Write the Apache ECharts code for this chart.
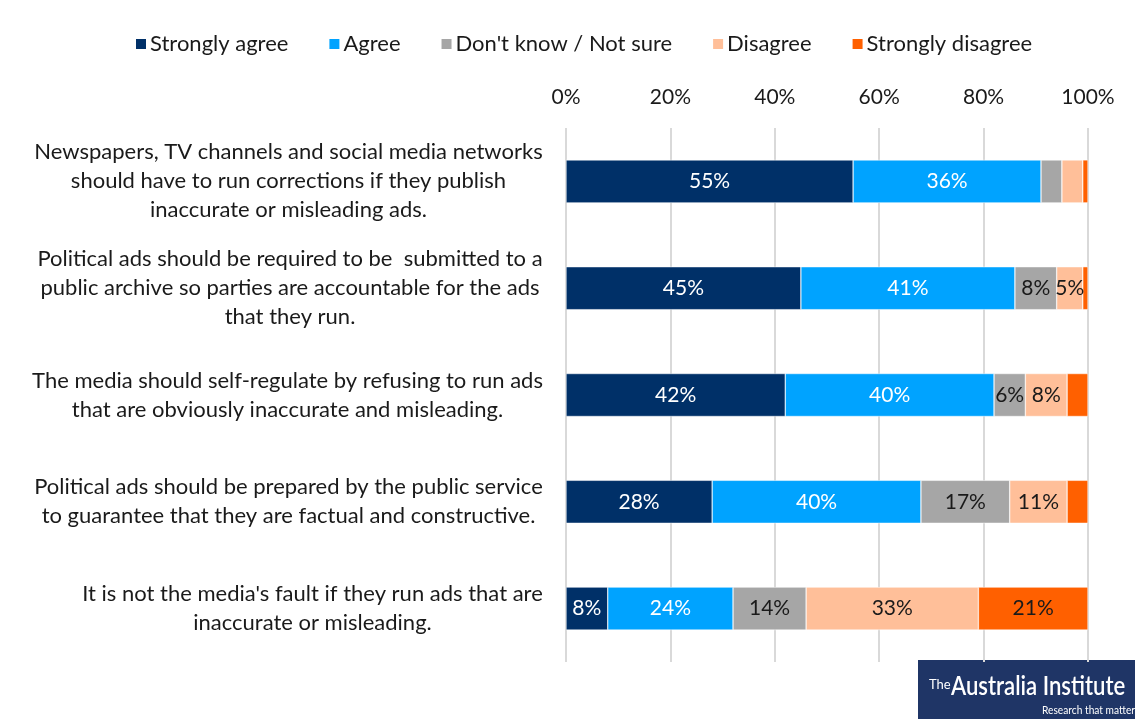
<!DOCTYPE html>
<html>
<head>
<meta charset="utf-8">
<script src="https://cdn.jsdelivr.net/npm/echarts@6/dist/echarts.min.js"></script>
<style>
html,body{margin:0;padding:0;background:#fff;}
#c{width:1135px;height:719px;}
</style>
</head>
<body>
<div id="c"></div>
<script>
const categories = [
  "Newspapers, TV channels and social media networks\nshould have to run corrections if they publish\ninaccurate or misleading ads.",
  "Political ads should be required to be  submitted to a\npublic archive so parties are accountable for the ads\nthat they run.",
  "The media should self-regulate by refusing to run ads\nthat are obviously inaccurate and misleading.",
  "Political ads should be prepared by the public service\nto guarantee that they are factual and constructive.",
  "It is not the media's fault if they run ads that are\ninaccurate or misleading."
];
const seriesNames = ["Strongly agree", "Agree", "Don't know / Not sure", "Disagree", "Strongly disagree"];
const stronglyAgree = [55, 45, 42, 28, 8];
const agree = [36, 41, 40, 40, 24];
const dontKnow = [4, 8, 6, 17, 14];
const disagree = [4, 5, 8, 11, 33];
const stronglyDisagree = [1, 1, 4, 4, 21];
const tickLabels = ["0%", "20%", "40%", "60%", "80%", "100%"];

const colors = ["#003068", "#00A3FF", "#A6A6A6", "#FFBF99", "#FF6000"];
const labelColors = ["#ffffff", "#ffffff", "#1a1a1a", "#1a1a1a", "#1a1a1a"];
const allData = [stronglyAgree, agree, dontKnow, disagree, stronglyDisagree];
const FONT = "Lato, 'Open Sans', sans-serif";
const CAT_SIZE = 22;

// measure category label blocks so each block's lines are centred on the block
const cv = document.createElement('canvas').getContext('2d');
cv.font = CAT_SIZE + 'px Lato';
const rich = {};
categories.forEach((c, i) => {
  const w = Math.max(...c.split('\n').map(l => cv.measureText(l).width));
  rich['c' + i] = { width: Math.ceil(w) + 2, align: 'center', fontSize: CAT_SIZE, fontFamily: FONT, color: '#1a1a1a', lineHeight: 29 };
});

const chart = echarts.init(document.getElementById('c'));
chart.setOption({
  animation: false,
  textStyle: { fontFamily: FONT },
  legend: {
    top: 28,
    left: 129,
    itemWidth: 12,
    itemHeight: 12,
    itemGap: 39,
    icon: 'rect',
    textStyle: { fontSize: 22, color: '#1a1a1a', fontFamily: FONT, padding: [0, 0, 0, -2] },
    data: seriesNames
  },
  grid: { left: 566, right: 47, top: 128, bottom: 57, containLabel: false },
  xAxis: {
    type: 'value',
    position: 'top',
    min: 0, max: 100, interval: 20,
    axisLine: { show: false },
    axisTick: { show: false },
    axisLabel: {
      fontSize: 21, color: '#1a1a1a', margin: 20, fontFamily: FONT,
      formatter: v => tickLabels[v / 20]
    },
    splitLine: { show: true, lineStyle: { color: '#D9D9D9', width: 2 } }
  },
  yAxis: {
    type: 'category',
    inverse: true,
    data: categories,
    axisLine: { show: false },
    axisTick: { show: false },
    axisLabel: {
      margin: 22, align: 'right',
      formatter: (v, i) => v.split('\n').map(l => '{c' + i + '|' + l + '}').join('\n'),
      rich
    }
  },
  series: seriesNames.map((name, i) => ({
    name,
    type: 'bar',
    stack: 'total',
    barWidth: 43,
    itemStyle: { color: colors[i], borderColor: '#ffffff', borderWidth: 0.5 },
    label: {
      show: true,
      position: 'inside',
      fontSize: 21,
      fontFamily: FONT,
      color: labelColors[i],
      formatter: p => p.value >= 5 ? p.value + '%' : ''
    },
    data: allData[i]
  })),
  graphic: [
    {
      type: 'group', left: 918, top: 660,
      children: [
        { type: 'rect', shape: { x: 0, y: 0, width: 217, height: 59 }, style: { fill: '#1F3566' } },
        { type: 'text', x: 11, y: 18, style: { text: 'The', fill: '#fff', font: '13px Lato, sans-serif' } },
        { type: 'text', x: 33, y: 13, scaleX: 0.82, style: { text: 'Australia Institute', fill: '#fff', font: '600 27px Lato, sans-serif' } },
        { type: 'text', x: 124, y: 44, scaleX: 0.85, style: { text: 'Research that matters', fill: '#fff', font: '12px Lato, sans-serif' } }
      ]
    }
  ]
});
</script>
</body>
</html>
